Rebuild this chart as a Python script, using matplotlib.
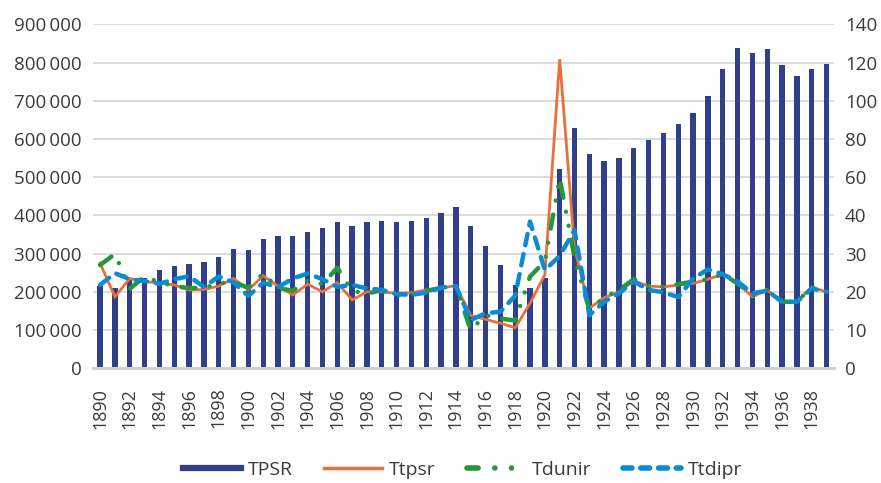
import numpy as np
import matplotlib
matplotlib.use("Agg")
import matplotlib.pyplot as plt
from matplotlib.lines import Line2D

years = list(range(1890, 1940))

tpsr = [214000, 210000, 235000, 235000, 258000, 268000, 272000, 279000, 290000, 313000,
        310000, 337000, 347000, 345000, 357000, 366000, 384000, 373000, 384000, 386000,
        384000, 386000, 394000, 405000, 421000, 373000, 321000, 269000, 218000, 210000,
        235000, 522000, 629000, 561000, 543000, 550000, 577000, 598000, 616000, 640000,
        668000, 713000, 784000, 838000, 825000, 836000, 794000, 765000, 784000, 797000]

ttpsr = [27.5, 18.7, 23.5, 22.7, 22.3, 21.8, 20.5, 20.6, 21.5, 23.5,
         20.5, 24.2, 21.5, 19.2, 22.0, 20.0, 22.4, 17.9, 20.0, 20.0,
         19.6, 19.8, 20.5, 20.9, 21.7, 13.8, 12.8, 11.8, 10.6, 17.0,
         24.5, 121.7, 31.5, 15.7, 18.5, 20.0, 22.9, 21.5, 21.3, 21.8,
         22.2, 23.3, 24.6, 22.2, 18.7, 20.5, 17.4, 17.6, 21.2, 20.0]

tdunir = [27.0, 29.9, 20.8, 24.0, 22.5, 21.5, 21.0, 21.0, 22.3, 22.5,
          21.1, 24.8, 21.0, 20.3, 23.0, 22.0, 26.3, 20.3, 19.5, 20.5,
          19.0, 19.5, 20.3, 21.0, 21.5, 10.0, 13.9, 13.0, 12.5, 24.0,
          28.0, 59.5, 29.0, 15.3, 18.5, 20.5, 23.3, 21.5, 21.3, 22.0,
          22.7, 23.3, 24.6, 22.2, 19.0, 20.5, 17.4, 17.4, 21.2, 20.0]

ttdipr = [21.8, 24.9, 23.3, 22.8, 22.1, 23.3, 24.1, 21.3, 24.0, 22.5,
          18.9, 22.4, 21.2, 23.5, 24.8, 23.3, 21.3, 21.8, 20.9, 20.5,
          19.4, 19.2, 19.8, 21.1, 21.5, 12.6, 14.4, 14.8, 19.0, 38.4,
          25.7, 29.4, 36.2, 13.9, 17.4, 19.6, 22.7, 20.5, 19.9, 18.6,
          23.5, 25.9, 24.6, 22.7, 19.6, 20.3, 17.4, 17.4, 20.9, 20.0]

left_ticks = [0, 100000, 200000, 300000, 400000, 500000, 600000, 700000, 800000, 900000]
right_ticks = [0, 10, 20, 30, 40, 60, 80, 100, 120, 140]

FONT = ["Open Sans", "DejaVu Sans"]
plt.rcParams["font.family"] = FONT
TXT = "#3b3b3b"
NAVY = "#303f8a"
ORANGE = "#ea6f3a"
GREEN = "#23983a"
BLUE = "#0b8bd3"

fig = plt.figure(figsize=(8.81, 4.83), dpi=100)
ax = fig.add_axes([0.1052, 0.2375, 0.9466 - 0.1052, 0.9497 - 0.2375])

x = np.arange(len(years))
ax.bar(x, tpsr, width=0.36, color=NAVY, zorder=2)
ax.set_xlim(-0.5, len(years) - 0.5)
ax.set_ylim(0, 900000)
ax.set_yticks(left_ticks)
ax.set_yticklabels(["0" if v == 0 else f"{v:,}".replace(",", "\u2009") for v in left_ticks])
ax.yaxis.grid(True, color="#d9d9d9", linewidth=1.3, zorder=0)
ax.set_axisbelow(True)
for s in ["top", "right", "left"]:
    ax.spines[s].set_visible(False)
ax.spines["bottom"].set_color("#d0d0d0")
ax.spines["bottom"].set_linewidth(2.2)
ax.spines["bottom"].set_zorder(3)
ax.tick_params(axis="y", length=0, pad=8, labelsize=13.5, labelcolor=TXT)
ax.set_xticks(x[::2])
ax.set_xticklabels([str(y) for y in years[::2]], rotation=90, va="top", ha="center")
ax.tick_params(axis="x", length=0, pad=14, labelsize=13, labelcolor=TXT)

ax2 = ax.twinx()
pos = np.arange(len(right_ticks), dtype=float)
vals = np.array(right_ticks, dtype=float)
ax2.set_yscale("function", functions=(lambda v: np.interp(v, vals, pos),
                                      lambda p: np.interp(p, pos, vals)))
ax2.set_ylim(0, 140)
ax2.set_yticks(right_ticks)
ax2.set_yticklabels([str(v) for v in right_ticks])
ax2.tick_params(axis="y", length=0, pad=8, labelsize=13.5, labelcolor=TXT)
for s in ["top", "right", "left", "bottom"]:
    ax2.spines[s].set_visible(False)

ax2.plot(x, ttpsr, color=ORANGE, linewidth=2.0, solid_joinstyle="miter", zorder=3)
ax2.plot(x, tdunir, color=GREEN, linewidth=3.2, dash_capstyle="round",
         linestyle=(0, (3.2, 3.2, 0.01, 3.2, 0.01, 3.2)), zorder=4)
ax2.plot(x, ttdipr, color=BLUE, linewidth=3.2, dash_capstyle="round",
         linestyle=(0, (2.6, 2.0)), zorder=5)

handles = [
    Line2D([], [], color=NAVY, linewidth=4.5),
    Line2D([], [], color=ORANGE, linewidth=2.5),
    Line2D([], [], color=GREEN, linewidth=4, dash_capstyle="round",
           linestyle=(0, (2.0, 3.0, 0.01, 3.0, 0.01, 3.0))),
    Line2D([], [], color=BLUE, linewidth=4, dash_capstyle="round",
           linestyle=(0, (1.6, 1.6))),
]
fig.legend(handles, ["TPSR", "Ttpsr", "Tdunir", "Ttdipr"], loc="center",
           bbox_to_anchor=(0.525, 0.027), ncol=4, frameon=False, fontsize=14,
           handlelength=3.0, handletextpad=0.35, columnspacing=1.6,
           labelcolor=TXT)

fig.savefig("out.png", dpi=100)
